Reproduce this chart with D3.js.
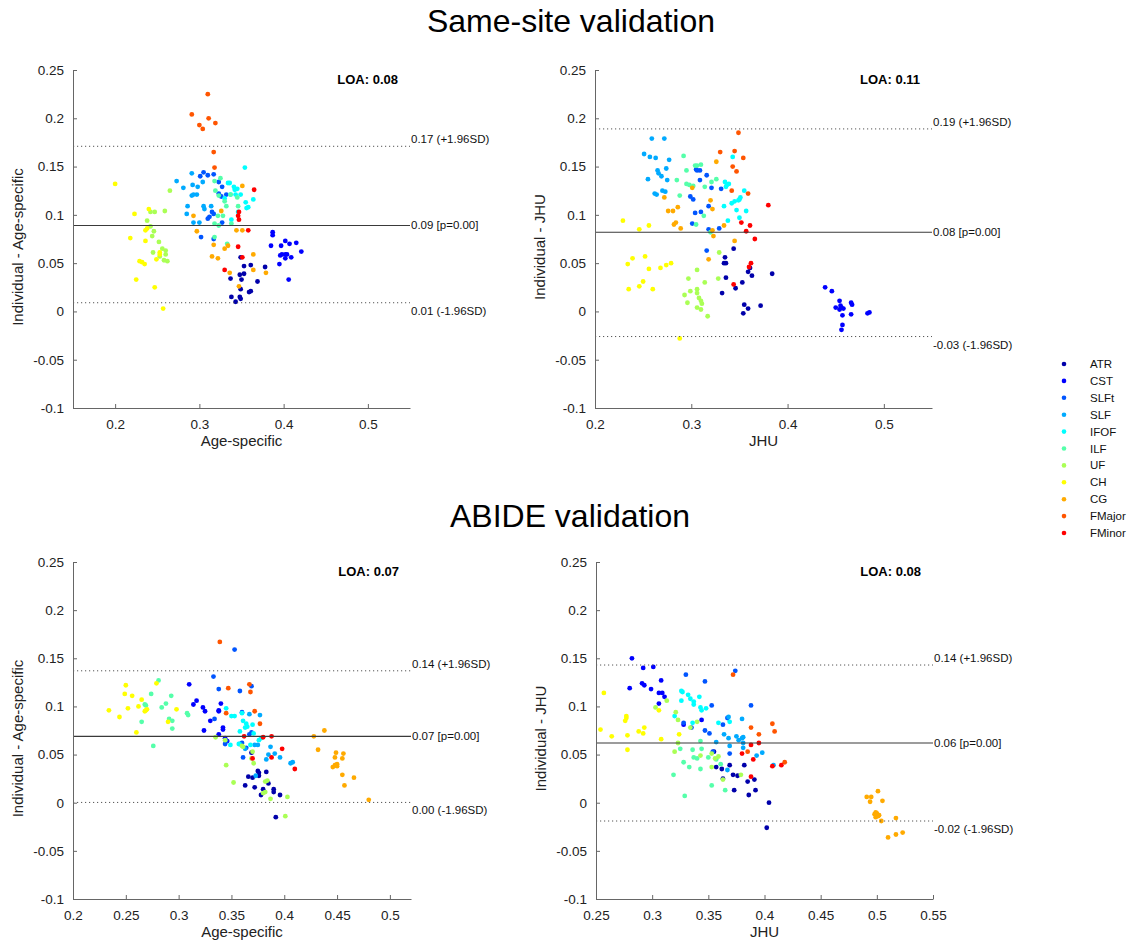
<!DOCTYPE html>
<html>
<head>
<meta charset="utf-8">
<script src="https://cdn.jsdelivr.net/npm/d3@7"></script>
<style>
  body { margin: 0; background: #fff; }
  svg { font-family: "Liberation Sans", Arial, Helvetica, sans-serif; }
</style>
</head>
<body>
<div class="chart"></div>
<script>
const tracts = ['ATR', 'CST', 'SLFt', 'SLF', 'IFOF', 'ILF', 'UF', 'CH', 'CG', 'FMajor', 'FMinor'];
// jet(11)
const tractColors = ['#0000aa', '#0000ff', '#0055ff', '#00aaff', '#00ffff', '#55ffaa',
  '#aaff55', '#ffff00', '#ffaa00', '#ff5500', '#ff0000'];

// Same-site validation, x = Age-specific, y = Individual - Age-specific
const sameSiteAge = {
  ATR: [[0.353,0.047],[0.361,0.048],[0.348,0.038],[0.353,0.039],[0.337,0.034],[0.350,0.033],[0.369,0.031],[0.378,0.046],[0.338,0.015],[0.343,0.010],[0.348,0.015],[0.349,0.013],[0.359,0.020],[0.361,0.021],[0.349,0.023],[0.349,0.056]],
  CST: [[0.387,0.082],[0.387,0.079],[0.385,0.068],[0.397,0.068],[0.402,0.073],[0.407,0.070],[0.415,0.071],[0.421,0.062],[0.396,0.058],[0.398,0.059],[0.402,0.059],[0.404,0.059],[0.402,0.055],[0.409,0.056],[0.395,0.049],[0.406,0.033]],
  SLFt: [[0.305,0.144],[0.310,0.141],[0.317,0.142],[0.323,0.134],[0.327,0.129],[0.326,0.119],[0.332,0.121],[0.315,0.103],[0.317,0.101],[0.310,0.096],[0.312,0.098],[0.327,0.092],[0.302,0.077],[0.317,0.075],[0.301,0.140],[0.323,0.122]],
  SLF: [[0.273,0.135],[0.281,0.128],[0.291,0.143],[0.292,0.131],[0.298,0.129],[0.291,0.120],[0.293,0.121],[0.297,0.121],[0.286,0.109],[0.285,0.101],[0.293,0.092],[0.300,0.092],[0.305,0.109],[0.306,0.106],[0.314,0.109],[0.304,0.134]],
  IFOF: [[0.354,0.149],[0.334,0.133],[0.336,0.133],[0.341,0.129],[0.345,0.127],[0.343,0.121],[0.349,0.121],[0.337,0.121],[0.355,0.113],[0.356,0.107],[0.364,0.116],[0.338,0.095],[0.346,0.103],[0.342,0.126],[0.330,0.117],[0.358,0.108]],
  ILF: [[0.325,0.138],[0.318,0.135],[0.319,0.125],[0.330,0.114],[0.332,0.109],[0.322,0.099],[0.328,0.099],[0.318,0.091],[0.323,0.089],[0.338,0.091],[0.318,0.077],[0.333,0.070],[0.337,0.121],[0.346,0.109],[0.345,0.118],[0.323,0.120]],
  UF: [[0.265,0.125],[0.242,0.103],[0.247,0.103],[0.259,0.104],[0.238,0.094],[0.242,0.088],[0.246,0.083],[0.244,0.078],[0.252,0.072],[0.256,0.065],[0.260,0.063],[0.245,0.061],[0.260,0.059],[0.262,0.052],[0.258,0.053],[0.253,0.057]],
  CH: [[0.200,0.132],[0.223,0.101],[0.240,0.106],[0.238,0.086],[0.236,0.084],[0.218,0.076],[0.236,0.073],[0.253,0.061],[0.253,0.059],[0.229,0.052],[0.232,0.051],[0.235,0.049],[0.225,0.033],[0.247,0.025],[0.257,0.003],[0.249,0.054]],
  CG: [[0.351,0.130],[0.293,0.099],[0.326,0.104],[0.297,0.083],[0.317,0.069],[0.334,0.068],[0.330,0.065],[0.315,0.057],[0.322,0.055],[0.344,0.084],[0.351,0.084],[0.364,0.059],[0.336,0.040],[0.364,0.043],[0.347,0.026],[0.379,0.040]],
  FMajor: [[0.310,0.225],[0.291,0.204],[0.311,0.200],[0.300,0.193],[0.319,0.195],[0.304,0.189],[0.317,0.165],[0.318,0.149]],
  FMinor: [[0.365,0.126],[0.347,0.103],[0.346,0.099],[0.347,0.095],[0.358,0.084],[0.346,0.067],[0.351,0.056],[0.330,0.043]]
};

// Same-site validation, x = JHU
const sameSiteJhu = {
  ATR: [[0.344,0.065],[0.335,0.056],[0.334,0.050],[0.336,0.050],[0.363,0.037],[0.359,0.041],[0.384,0.039],[0.336,0.035],[0.353,0.030],[0.346,0.024],[0.332,0.019],[0.355,0.007],[0.359,0.003],[0.354,-0.002],[0.372,0.006],[0.361,0.045]],
  CST: [[0.439,0.025],[0.446,0.021],[0.454,0.011],[0.450,0.004],[0.455,0.006],[0.454,0.002],[0.456,0.004],[0.458,0.003],[0.457,-0.004],[0.457,-0.014],[0.456,-0.019],[0.466,0.009],[0.467,0.007],[0.466,-0.003],[0.483,-0.002],[0.485,-0.001]],
  SLFt: [[0.305,0.147],[0.309,0.146],[0.316,0.141],[0.309,0.136],[0.299,0.119],[0.302,0.116],[0.321,0.128],[0.331,0.127],[0.318,0.109],[0.310,0.103],[0.304,0.102],[0.301,0.091],[0.318,0.085],[0.329,0.086],[0.316,0.063],[0.306,0.146]],
  SLF: [[0.259,0.179],[0.272,0.179],[0.251,0.163],[0.257,0.160],[0.263,0.159],[0.277,0.157],[0.274,0.148],[0.265,0.146],[0.266,0.143],[0.255,0.137],[0.269,0.140],[0.275,0.136],[0.262,0.122],[0.264,0.121],[0.270,0.125],[0.273,0.124]],
  IFOF: [[0.343,0.160],[0.335,0.134],[0.337,0.131],[0.339,0.132],[0.350,0.116],[0.351,0.118],[0.349,0.115],[0.355,0.125],[0.342,0.112],[0.334,0.109],[0.347,0.105],[0.357,0.104],[0.350,0.097],[0.338,0.094],[0.336,0.129],[0.345,0.114]],
  ILF: [[0.292,0.161],[0.295,0.146],[0.304,0.151],[0.310,0.152],[0.306,0.151],[0.285,0.136],[0.295,0.132],[0.298,0.131],[0.314,0.129],[0.326,0.137],[0.321,0.134],[0.288,0.120],[0.313,0.099],[0.305,0.090],[0.320,0.082],[0.302,0.130]],
  UF: [[0.329,0.061],[0.306,0.043],[0.297,0.034],[0.299,0.021],[0.306,0.023],[0.314,0.030],[0.293,0.017],[0.306,0.019],[0.308,0.014],[0.310,0.011],[0.311,0.008],[0.296,0.009],[0.306,0.004],[0.310,0.002],[0.317,-0.005],[0.328,0.034]],
  CH: [[0.229,0.094],[0.246,0.085],[0.256,0.089],[0.234,0.049],[0.239,0.055],[0.252,0.057],[0.256,0.044],[0.268,0.045],[0.274,0.048],[0.279,0.050],[0.250,0.031],[0.246,0.026],[0.235,0.023],[0.260,0.023],[0.288,-0.028]],
  CG: [[0.326,0.155],[0.301,0.128],[0.272,0.118],[0.286,0.108],[0.276,0.104],[0.281,0.104],[0.282,0.090],[0.284,0.092],[0.289,0.086],[0.320,0.115],[0.322,0.106],[0.334,0.089],[0.322,0.084],[0.323,0.078],[0.345,0.073],[0.318,0.054]],
  FMajor: [[0.349,0.185],[0.330,0.165],[0.345,0.166],[0.354,0.159],[0.343,0.150],[0.347,0.145],[0.342,0.125],[0.359,0.122]],
  FMinor: [[0.380,0.110],[0.352,0.092],[0.361,0.089],[0.357,0.083],[0.366,0.075],[0.362,0.050],[0.360,0.046],[0.344,0.028]]
};

// ABIDE validation, x = Age-specific
const abideAge = {
  ATR: [[0.366,0.027],[0.370,0.026],[0.375,0.033],[0.376,0.031],[0.383,0.032],[0.385,0.020],[0.372,0.016],[0.380,0.014],[0.390,0.014],[0.390,0.011],[0.378,0.008],[0.396,0.008],[0.392,-0.015],[0.369,0.052],[0.363,0.018],[0.376,0.028]],
  CST: [[0.310,0.123],[0.317,0.106],[0.314,0.102],[0.323,0.099],[0.325,0.095],[0.340,0.103],[0.338,0.096],[0.338,0.095],[0.330,0.085],[0.324,0.075],[0.342,0.078],[0.342,0.076],[0.338,0.071],[0.344,0.067],[0.346,0.064]],
  SLFt: [[0.353,0.159],[0.333,0.131],[0.338,0.118],[0.358,0.116],[0.369,0.121],[0.360,0.094],[0.334,0.087],[0.361,0.047],[0.367,0.071],[0.364,0.057],[0.345,0.064],[0.360,0.062],[0.344,0.061],[0.369,0.073]],
  SLF: [[0.367,0.092],[0.377,0.091],[0.363,0.056],[0.375,0.060],[0.387,0.058],[0.391,0.051],[0.385,0.050],[0.396,0.047],[0.383,0.045],[0.373,0.028],[0.406,0.041],[0.408,0.042],[0.358,0.061],[0.372,0.060]],
  IFOF: [[0.345,0.098],[0.350,0.090],[0.353,0.090],[0.360,0.093],[0.364,0.082],[0.363,0.078],[0.358,0.074],[0.371,0.072],[0.357,0.061],[0.349,0.060],[0.376,0.065],[0.378,0.067],[0.370,0.081],[0.365,0.079],[0.361,0.085],[0.368,0.060]],
  ILF: [[0.281,0.127],[0.274,0.113],[0.293,0.111],[0.288,0.103],[0.284,0.099],[0.308,0.093],[0.309,0.091],[0.291,0.087],[0.294,0.085],[0.294,0.077],[0.276,0.059],[0.268,0.102],[0.269,0.101],[0.265,0.084]],
  UF: [[0.335,0.068],[0.344,0.065],[0.370,0.053],[0.371,0.041],[0.369,0.046],[0.345,0.039],[0.360,0.059],[0.352,0.021],[0.382,0.022],[0.384,0.023],[0.382,0.011],[0.380,0.010],[0.387,0.004],[0.403,0.006],[0.401,-0.014],[0.361,0.058]],
  CH: [[0.234,0.096],[0.244,0.089],[0.249,0.113],[0.250,0.122],[0.252,0.098],[0.256,0.111],[0.262,0.100],[0.265,0.107],[0.269,0.096],[0.270,0.097],[0.260,0.073],[0.279,0.124],[0.290,0.084],[0.298,0.097],[0.268,0.095]],
  CG: [[0.428,0.069],[0.438,0.075],[0.432,0.055],[0.449,0.052],[0.456,0.051],[0.448,0.047],[0.455,0.046],[0.446,0.037],[0.448,0.039],[0.450,0.040],[0.455,0.029],[0.457,0.018],[0.466,0.026],[0.480,0.003],[0.449,0.039],[0.450,0.038]],
  FMajor: [[0.339,0.167],[0.367,0.123],[0.368,0.115],[0.347,0.119],[0.372,0.095],[0.345,0.093],[0.377,0.082]],
  FMinor: [[0.362,0.069],[0.380,0.068],[0.388,0.069],[0.398,0.056],[0.388,0.047],[0.370,0.046],[0.410,0.035]]
};

// ABIDE validation, x = JHU
const abideJhu = {
  ATR: [[0.355,0.053],[0.357,0.037],[0.362,0.035],[0.369,0.039],[0.382,0.039],[0.363,0.025],[0.372,0.029],[0.376,0.028],[0.373,0.013],[0.385,0.022],[0.386,0.008],[0.391,0.024],[0.392,0.013],[0.404,0.000],[0.402,-0.026]],
  CST: [[0.282,0.150],[0.292,0.140],[0.301,0.141],[0.291,0.124],[0.293,0.122],[0.280,0.119],[0.299,0.118],[0.308,0.127],[0.306,0.114],[0.309,0.114],[0.311,0.110],[0.306,0.103],[0.344,0.086],[0.328,0.081]],
  SLFt: [[0.330,0.133],[0.347,0.126],[0.374,0.137],[0.353,0.101],[0.388,0.101],[0.367,0.088],[0.328,0.083],[0.335,0.078],[0.347,0.075],[0.351,0.072],[0.354,0.053],[0.369,0.051],[0.363,0.081]],
  SLF: [[0.364,0.071],[0.368,0.067],[0.369,0.059],[0.375,0.069],[0.380,0.067],[0.380,0.087],[0.381,0.062],[0.357,0.063],[0.367,0.034],[0.393,0.049],[0.398,0.052],[0.368,0.089],[0.381,0.057],[0.408,0.039],[0.377,0.065],[0.381,0.068]],
  IFOF: [[0.326,0.116],[0.327,0.115],[0.326,0.106],[0.332,0.112],[0.337,0.105],[0.337,0.102],[0.342,0.110],[0.343,0.099],[0.344,0.096],[0.348,0.098],[0.320,0.090],[0.336,0.083],[0.359,0.083],[0.369,0.084],[0.334,0.108]],
  ILF: [[0.319,0.029],[0.329,0.007],[0.333,0.037],[0.336,0.055],[0.337,0.047],[0.340,0.046],[0.343,0.035],[0.343,0.064],[0.353,0.018],[0.357,0.045],[0.361,0.040],[0.365,0.013],[0.328,0.042],[0.344,0.056],[0.350,0.047],[0.325,0.056]],
  UF: [[0.313,0.106],[0.303,0.099],[0.321,0.094],[0.323,0.086],[0.340,0.084],[0.323,0.062],[0.320,0.053],[0.343,0.049],[0.353,0.051],[0.359,0.048],[0.353,0.037],[0.363,0.024],[0.379,0.029],[0.334,0.078],[0.356,0.046]],
  CH: [[0.257,0.114],[0.254,0.076],[0.264,0.069],[0.277,0.090],[0.276,0.085],[0.278,0.070],[0.278,0.055],[0.288,0.074],[0.293,0.078],[0.292,0.072],[0.306,0.096],[0.308,0.066],[0.324,0.071],[0.277,0.088]],
  CG: [[0.491,0.006],[0.495,0.006],[0.494,0.001],[0.501,0.012],[0.505,0.002],[0.499,-0.010],[0.498,-0.012],[0.500,-0.011],[0.499,-0.015],[0.501,-0.014],[0.502,-0.013],[0.504,-0.019],[0.510,-0.036],[0.517,-0.033],[0.523,-0.031],[0.517,-0.016]],
  FMajor: [[0.372,0.133],[0.388,0.078],[0.395,0.071],[0.407,0.082],[0.409,0.074],[0.385,0.053],[0.418,0.042]],
  FMinor: [[0.388,0.060],[0.395,0.062],[0.380,0.051],[0.390,0.045],[0.407,0.038],[0.415,0.039],[0.388,0.027]]
};

// per-panel statistics, in panel order
const panelData = [sameSiteAge, sameSiteJhu, abideAge, abideJhu];
const meanDiff = [0.089, 0.082, 0.069, 0.062];
const upperLimit = [0.171, 0.189, 0.137, 0.143];
const lowerLimit = [0.009, -0.026, 0.0003, -0.019];
const pValues = ['0.00', '0.00', '0.00', '0.00'];
const loaValues = ['0.08', '0.11', '0.07', '0.08'];
const xLabels = ['Age-specific', 'JHU', 'Age-specific', 'JHU'];
const yLabels = ['Individual - Age-specific', 'Individual - JHU', 'Individual - Age-specific', 'Individual - JHU'];
const xDomains = [[0.15, 0.55], [0.2, 0.55], [0.2, 0.52], [0.25, 0.55]];
const xTicks = [[0.2, 0.3, 0.4, 0.5], [0.2, 0.3, 0.4, 0.5],
  [0.2, 0.25, 0.3, 0.35, 0.4, 0.45, 0.5], [0.25, 0.3, 0.35, 0.4, 0.45, 0.5, 0.55]];
const yTicks = [0.25, 0.2, 0.15, 0.1, 0.05, 0, -0.05, -0.1];
const sectionTitles = ['Same-site validation', 'ABIDE validation'];

const width = 1129, height = 944;
// axes boxes (left, right, top, bottom) in page pixels
const boxes = [
  [73, 410, 70, 408],
  [595, 932, 70, 408],
  [73, 411, 562, 899],
  [596, 933, 562, 899]
];

const svg = d3.select('.chart').append('svg')
  .attr('width', width)
  .attr('height', height);

svg.append('text').attr('x', 571).attr('y', 32)
  .attr('text-anchor', 'middle').style('font-size', '32px').attr('fill', '#000')
  .text(sectionTitles[0]);
svg.append('text').attr('x', 570).attr('y', 527)
  .attr('text-anchor', 'middle').style('font-size', '32px').attr('fill', '#000')
  .text(sectionTitles[1]);

// plain hyphen minus, as in the original figure
const numFmt = d => String(d);

boxes.forEach(function (b, i) {
  const [x0, x1, y0, y1] = b;
  const x = d3.scaleLinear().domain(xDomains[i]).range([x0, x1]);
  const y = d3.scaleLinear().domain([-0.1, 0.25]).range([y1, y0]);
  const g = svg.append('g');

  // points, one series per tract
  tracts.forEach(function (t, k) {
    g.append('g').selectAll('circle')
      .data(panelData[i][t])
      .enter().append('circle')
      .attr('cx', d => x(d[0]))
      .attr('cy', d => y(d[1]))
      .attr('r', 2.4)
      .attr('fill', tractColors[k]);
  });

  // mean and limits of agreement
  g.append('line')
    .attr('x1', x0).attr('x2', x1)
    .attr('y1', y(meanDiff[i])).attr('y2', y(meanDiff[i]))
    .attr('stroke', '#3a3a3a').attr('stroke-width', 1.2);
  [upperLimit[i], lowerLimit[i]].forEach(function (v) {
    g.append('line')
      .attr('x1', x0).attr('x2', x1)
      .attr('y1', y(v)).attr('y2', y(v))
      .attr('stroke', '#555').attr('stroke-width', 1)
      .attr('stroke-dasharray', '1.2,2.8');
  });

  const lab = g.append('g').style('font-size', '11.5px').attr('fill', '#111');
  lab.append('text').attr('x', x1 + 1).attr('y', y(upperLimit[i]) - 3)
    .text(upperLimit[i].toFixed(2) + ' (+1.96SD)');
  lab.append('text').attr('x', x1 + 1).attr('y', y(meanDiff[i]) + 4)
    .text(meanDiff[i].toFixed(2) + ' [p=' + pValues[i] + ']');
  lab.append('text').attr('x', x1 + 1).attr('y', y(lowerLimit[i]) + 12)
    .text(lowerLimit[i].toFixed(2) + ' (-1.96SD)');

  g.append('text').attr('x', x1 - 12).attr('y', y0 + 14)
    .attr('text-anchor', 'end').style('font-size', '13px').style('font-weight', 'bold')
    .text('LOA: ' + loaValues[i]);

  // axes, ticks pointing inwards
  const ax = g.append('g').attr('transform', `translate(0,${y1})`)
    .call(d3.axisBottom(x).tickValues(xTicks[i]).tickFormat(numFmt).tickSizeInner(-4).tickSizeOuter(0).tickPadding(11));
  const ay = g.append('g').attr('transform', `translate(${x0},0)`)
    .call(d3.axisLeft(y).tickValues(yTicks).tickFormat(numFmt).tickSizeInner(-4).tickSizeOuter(0).tickPadding(9));
  [ax, ay].forEach(function (a) {
    a.select('.domain').attr('stroke', '#666');
    a.selectAll('.tick line').attr('stroke', '#666');
    a.selectAll('.tick text').style('font-size', '13.5px').attr('fill', '#222')
      .style('font-family', '"Liberation Sans", Arial, Helvetica, sans-serif');
  });

  g.append('text')
    .attr('x', (x0 + x1) / 2).attr('y', y1 + 38)
    .attr('text-anchor', 'middle').style('font-size', '15px').attr('fill', '#222')
    .text(xLabels[i]);
  g.append('text')
    .attr('transform', `translate(${x0 - 50},${(y0 + y1) / 2 + 8}) rotate(-90)`)
    .attr('text-anchor', 'middle').style('font-size', '15px').attr('fill', '#222')
    .text(yLabels[i]);
});

// legend
const legend = svg.append('g');
tracts.forEach(function (t, k) {
  const ly = 364 + k * 16.9;
  legend.append('circle').attr('cx', 1064).attr('cy', ly).attr('r', 2.3).attr('fill', tractColors[k]);
  legend.append('text').attr('x', 1090).attr('y', ly + 4)
    .style('font-size', '11.5px').attr('fill', '#111').text(t);
});
</script>
</body>
</html>
